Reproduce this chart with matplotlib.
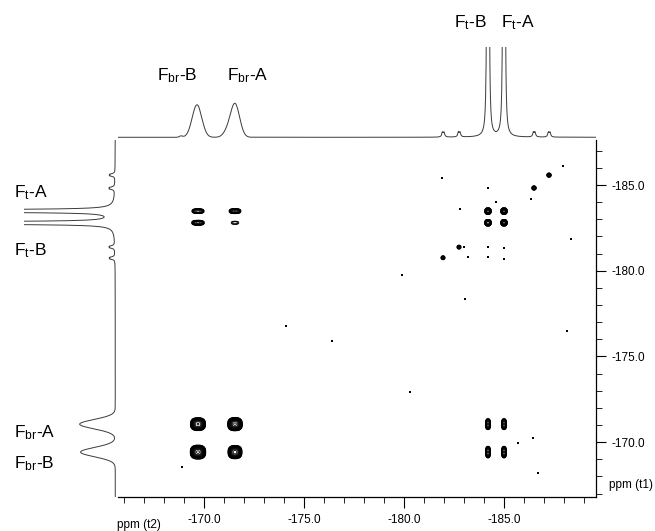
import numpy as np
import matplotlib
matplotlib.use("Agg")
import matplotlib.pyplot as plt
from matplotlib.ticker import MultipleLocator, FormatStrFormatter

plt.rcParams['font.family'] = ['Liberation Sans', 'DejaVu Sans']
plt.rcParams['mathtext.fontset'] = 'custom'
plt.rcParams['mathtext.rm'] = 'Liberation Sans'

# ---------------- data (ppm) ----------------
# F2 (direct, horizontal) peak list for the 1D projection
f2_pos    = [-169.65, -171.55, -171.15, -168.85, -184.16, -184.24, -184.96, -185.04,
             -181.92, -182.00, -182.72, -182.80, -186.47, -186.55, -187.22, -187.30]
f2_height = [0.36, 0.37, 0.05, 0.015, 4.0, 4.0, 4.0, 4.0,
             0.05, 0.05, 0.05, 0.05, 0.05, 0.05, 0.05, 0.05]
f2_width  = [0.24, 0.23, 0.2, 0.08, 0.025, 0.025, 0.025, 0.025,
             0.04, 0.04, 0.04, 0.04, 0.04, 0.04, 0.04, 0.04]
f2_shape  = ['g', 'g', 'g', 'g', 'l', 'l', 'l', 'l',
             'l', 'l', 'l', 'l', 'l', 'l', 'l', 'l']

# F1 (indirect, vertical) peak list for the 1D projection
f1_pos    = [-171.05, -169.42, -183.45, -183.53, -182.75, -182.83,
             -185.55, -185.63, -184.78, -184.86, -181.35, -181.43, -180.70, -180.78]
f1_height = [0.39, 0.38, 4.0, 4.0, 4.0, 4.0,
             0.05, 0.05, 0.05, 0.05, 0.05, 0.05, 0.05, 0.05]
f1_width  = [0.27, 0.27, 0.03, 0.03, 0.03, 0.03,
             0.045, 0.045, 0.045, 0.045, 0.045, 0.045, 0.045, 0.045]
f1_shape  = ['g', 'g', 'l', 'l', 'l', 'l', 'l', 'l', 'l', 'l', 'l', 'l', 'l', 'l']

# 2D cross-peak table: columns (F2) and rows (F1)
col_names = ['Fbr-B', 'Fbr-A', 'Ft-B', 'Ft-A']
col_pos   = [-169.70, -171.55, -184.20, -185.00]
col_sigma = [0.19, 0.18, 0.075, 0.075]
row_names = ['Ft-A', 'Ft-B', 'Fbr-A', 'Fbr-B']
row_pos   = [-183.48, -182.80, -171.05, -169.42]
row_sigma = [0.09, 0.09, 0.19, 0.2]
amp = [[0.22, 0.25, 1.4, 1.4],
       [0.26, 0.07, 1.5, 1.4],
       [0.8, 1.0, 0.3, 0.3],
       [1.0, 0.7, 0.3, 0.3]]

# weak satellite diagonal peaks (F2, F1, amplitude)
sat_f2  = [-186.50, -187.25, -181.95, -182.75]
sat_f1  = [-184.83, -185.58, -180.76, -181.38]
sat_amp = [0.15, 0.15, 0.12, 0.12]

# isolated noise specks (F2, F1)
speck_f2 = [-168.9, -184.2, -184.6, -186.35, -187.95, -188.35, -186.45, -185.7,
            -186.7, -179.9, -183.05, -188.15, -180.3, -183.0, -183.2, -184.2,
            -185.0, -184.2, -185.0, -181.9, -182.8, -176.4, -174.1]
speck_f1 = [-168.54, -184.82, -184.0, -184.18, -186.1, -181.85, -170.23, -169.94,
            -168.19, -179.75, -178.35, -176.5, -172.9, -181.4, -180.8, -181.4,
            -181.35, -180.8, -180.7, -185.4, -183.6, -175.9, -176.8]

xlim = (-165.7, -189.6)
ylim = (-166.8, -187.63)


def trace(axis, pos, h, w, shape):
    out = np.zeros_like(axis)
    for p, hh, ww, s in zip(pos, h, w, shape):
        if s == 'g':
            out += hh * np.exp(-0.5 * ((axis - p) / ww) ** 2)
        else:
            out += hh / (1 + ((axis - p) / ww) ** 2)
    return out


# ---------------- figure ----------------
W, H = 655, 531
fig = plt.figure(figsize=(W / 100, H / 100), dpi=100)


def fx(px):
    return px / W


def fy(py):
    return 1 - py / H


L, R, T, B = 118, 596, 140, 497
ax = fig.add_axes([fx(L), fy(B), fx(R) - fx(L), fy(T) - fy(B)])
axt = fig.add_axes([fx(L), fy(T), fx(R) - fx(L), fy(47) - fy(T)])
axl = fig.add_axes([fx(24), fy(B), fx(L) - fx(24), fy(T) - fy(B)])

# 2D contour map
x2 = np.arange(xlim[1], xlim[0], 0.012)
y1 = np.arange(ylim[1], ylim[0], 0.012)
X, Y = np.meshgrid(x2, y1)
Z = np.zeros_like(X)
for i, (rp, rs) in enumerate(zip(row_pos, row_sigma)):
    gy = np.exp(-0.5 * np.abs((y1 - rp) / rs) ** 2.6)
    for j, (cp, cs) in enumerate(zip(col_pos, col_sigma)):
        gx = np.exp(-0.5 * np.abs((x2 - cp) / cs) ** 2.6)
        Z += amp[i][j] * np.outer(gy, gx)
for sx, sy, a in zip(sat_f2, sat_f1, sat_amp):
    Z += a * np.exp(-0.5 * (((X - sx) / 0.07) ** 2 + ((Y - sy) / 0.08) ** 2))

levels = 0.04 * 1.22 ** np.arange(18)
ax.contour(X, Y, Z, levels=levels, colors='black', linewidths=0.6)
ax.scatter(speck_f2, speck_f1, s=1.2, c='black', marker='s', linewidths=0)

ax.set_xlim(*xlim)
ax.set_ylim(*ylim)
ax.spines['top'].set_visible(False)
ax.spines['left'].set_visible(False)
ax.spines['bottom'].set_linewidth(0.9)
ax.spines['right'].set_linewidth(0.9)
ax.yaxis.tick_right()
ax.xaxis.set_major_locator(MultipleLocator(5))
ax.xaxis.set_minor_locator(MultipleLocator(1))
ax.yaxis.set_major_locator(MultipleLocator(5))
ax.yaxis.set_minor_locator(MultipleLocator(1))
ax.xaxis.set_major_formatter(FormatStrFormatter('%.1f'))
ax.yaxis.set_major_formatter(FormatStrFormatter('%.1f'))
ax.tick_params(axis='x', which='major', length=8, width=0.8, pad=4, labelsize=8.5)
ax.tick_params(axis='x', which='minor', length=4.5, width=0.6)
ax.tick_params(axis='y', which='major', length=7, width=0.8, pad=4, labelsize=8.5)
ax.tick_params(axis='y', which='minor', length=4.5, width=0.6)

fig.text(fx(117), fy(525), 'ppm (t2)', fontsize=8.5, ha='left', va='center')
fig.text(fx(609), fy(485), 'ppm (t1)', fontsize=8.5, ha='left', va='center')

# top projection
tc = '#3a3a3a'
axt.plot(x2, trace(x2, f2_pos, f2_height, f2_width, f2_shape), color=tc, lw=0.7)
axt.set_xlim(*xlim)
axt.set_ylim(-0.03, 1.0)
axt.axis('off')

# left projection
axl.plot(trace(y1, f1_pos, f1_height, f1_width, f1_shape), y1, color=tc, lw=0.7)
axl.set_ylim(*ylim)
axl.set_xlim(1.0, -0.03)
axl.axis('off')

# peak labels
lab = dict(fontsize=12.5, color='black')
fig.text(fx(177), fy(80), r'F$\mathregular{_{br}}$-B', ha='center', va='baseline', **lab)
fig.text(fx(248), fy(80), r'F$\mathregular{_{br}}$-A', ha='center', va='baseline', **lab)
fig.text(fx(470), fy(27), r'F$\mathregular{_{t}}$-B', ha='center', va='baseline', **lab)
fig.text(fx(518), fy(27), r'F$\mathregular{_{t}}$-A', ha='center', va='baseline', **lab)
fig.text(fx(14), fy(197), r'F$\mathregular{_{t}}$-A', ha='left', va='baseline', **lab)
fig.text(fx(14), fy(255), r'F$\mathregular{_{t}}$-B', ha='left', va='baseline', **lab)
fig.text(fx(14), fy(437), r'F$\mathregular{_{br}}$-A', ha='left', va='baseline', **lab)
fig.text(fx(14), fy(468), r'F$\mathregular{_{br}}$-B', ha='left', va='baseline', **lab)

fig.savefig('out.png', dpi=100)
